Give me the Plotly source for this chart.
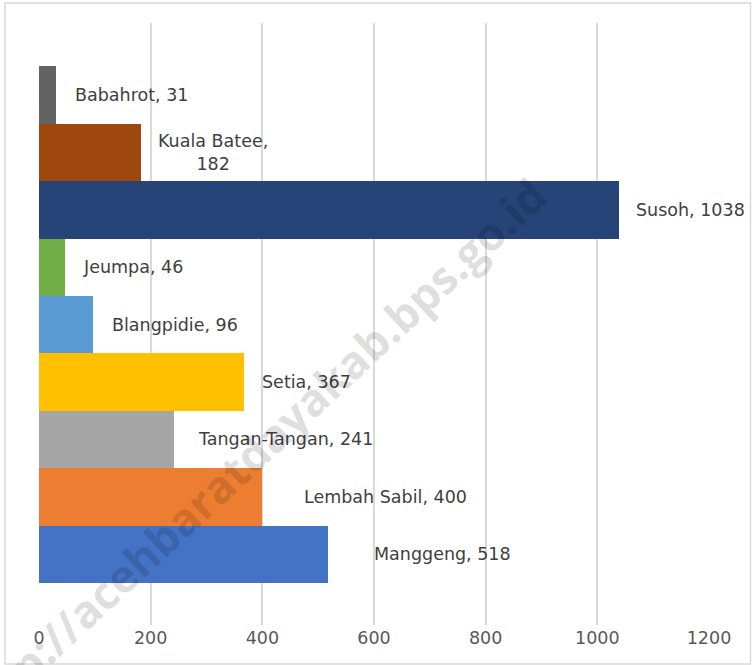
import plotly.graph_objects as go

# Data (bottom to top)
categories = ["Manggeng", "Lembah Sabil", "Tangan-Tangan", "Setia", "Blangpidie",
              "Jeumpa", "Susoh", "Kuala Batee", "Babahrot"]
values = [518, 400, 241, 367, 96, 46, 1038, 182, 31]
label_texts = ["Manggeng, 518", "Lembah Sabil, 400", "Tangan-Tangan, 241", "Setia, 367",
               "Blangpidie, 96", "Jeumpa, 46", "Susoh, 1038", "Kuala Batee,<br>182", "Babahrot, 31"]
x_ticks = [0, 200, 400, 600, 800, 1000, 1200]

# Styles
colors = ["#4472C4", "#ED7D31", "#A5A5A5", "#FFC000", "#5B9BD5",
          "#70AD47", "#264478", "#9E480E", "#636363"]
label_shift = [44, 40, 22, 16, 17, 16, 15, 15, 17]

W, H = 752, 665
ml, mr, mt, mb = 39, 43, 23, 40
pw, ph = W - ml - mr, H - mt - mb

def px(xp):
    return (xp - ml) / pw

def py(yp):
    return (H - mb - yp) / ph

fig = go.Figure()
fig.add_trace(go.Bar(
    y=categories, x=values, orientation="h",
    marker=dict(color=colors, line=dict(width=0)),
    hoverinfo="skip", showlegend=False,
))

annotations = []
for c, v, t, s in zip(categories, values, label_texts, label_shift):
    annotations.append(dict(
        x=v, y=c, xref="x", yref="y", text=t, showarrow=False,
        xanchor="left", yanchor="middle", xshift=s, align="center",
        font=dict(family="DejaVu Sans", size=17.5, color="#404040"),
    ))

# watermark
annotations.append(dict(
    x=px(252), y=py(453), xref="paper", yref="paper",
    text="<b>http://acehbaratdayakab.bps.go.id</b>", showarrow=False,
    textangle=-43, xanchor="center", yanchor="middle",
    font=dict(family="Open Sans", size=45, color="rgba(0,0,0,0.14)"),
))

fig.update_layout(
    width=W, height=H,
    margin=dict(l=ml, r=mr, t=mt, b=mb),
    paper_bgcolor="white", plot_bgcolor="white",
    bargap=0,
    xaxis=dict(range=[0, 1200], tickvals=x_ticks, showgrid=True,
               gridcolor="#D9D9D9", gridwidth=1.5, zeroline=False,
               showline=False, ticks="",
               tickfont=dict(family="DejaVu Sans", size=17.5, color="#595959"),
               fixedrange=True),
    yaxis=dict(categoryorder="array", categoryarray=categories,
               range=[-1.232, 9.256], showticklabels=False, showgrid=False,
               zeroline=False, showline=False, ticks="", fixedrange=True),
    annotations=annotations,
    shapes=[dict(type="rect", xref="paper", yref="paper",
                 x0=px(5), x1=px(750.5), y0=py(664), y1=py(3),
                 line=dict(color="#D9D9D9", width=1.5), layer="below")],
)

fig.write_html("out.html",
               config={"displayModeBar": False},
               post_script="document.body.style.margin='0';document.body.style.overflow='hidden';")
